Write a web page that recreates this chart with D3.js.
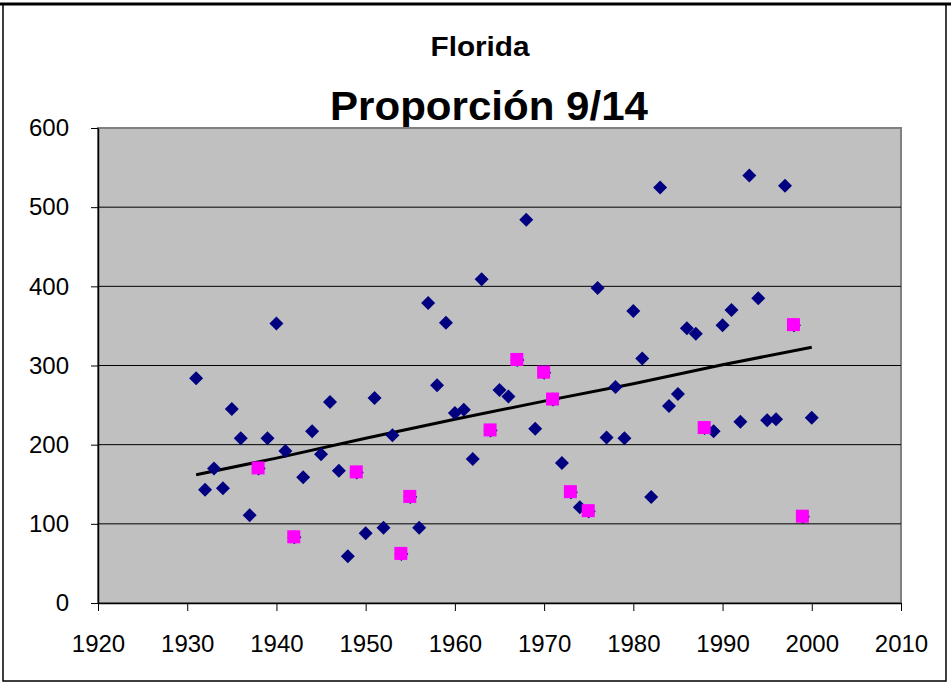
<!DOCTYPE html>
<html>
<head>
<meta charset="utf-8">
<script src="https://cdn.jsdelivr.net/npm/d3@7"></script>
<style>
  body { margin: 0; background: #fff; }
  text { font-family: "Liberation Sans", Arial, sans-serif; }
</style>
</head>
<body>
<svg id="chart" width="951" height="687"></svg>
<script>
// yearly values (blue diamonds)
const years = [1931,1932,1933,1934,1935,1936,1937,1938,1939,1940,
  1941,1942,1943,1944,1945,1946,1947,1948,1949,1950,
  1951,1952,1953,1954,1955,1956,1957,1958,1959,1960,
  1961,1962,1963,1964,1965,1966,1967,1968,1969,1970,
  1971,1972,1973,1974,1975,1976,1977,1978,1979,1980,
  1981,1982,1983,1984,1985,1986,1987,1988,1989,1990,
  1991,1992,1993,1994,1995,1996,1997,1998,1999,2000];
const values = [284,143,170,145,245,208,111,170,208,353,
  192,83,159,217,188,254,167,59,165,88,
  259,95,212,62,134,95,379,275,354,240,
  244,182,409,218,269,261,307,484,220,291,
  257,177,140,121,116,398,209,273,208,369,
  309,134,525,249,264,347,340,221,217,351,
  370,229,540,385,231,232,527,351,109,234];

// highlighted years (magenta squares)
const highlightYears = [1938,1942,1949,1954,1955,1964,1967,1970,1971,1973,1975,1988,1998,1999];

// trend line
const trendYears = [1931, 1940, 1950, 1960, 1970, 1980, 1990, 2000];
const trendValues = [162, 183, 208, 232, 255, 277, 301, 323];

const xTicks = [1920,1930,1940,1950,1960,1970,1980,1990,2000,2010];
const yTicks = [0,100,200,300,400,500,600];

const svg = d3.select("#chart");
const plotL = 98, plotR = 901, plotT = 128, plotB = 603;

const x = d3.scaleLinear().domain([1920, 2010]).range([plotL, plotR]);
const y = d3.scaleLinear().domain([0, 600]).range([plotB, plotT]);

// outer frame
svg.append("rect")
  .attr("x", 3).attr("y", 4).attr("width", 943).attr("height", 677)
  .attr("fill", "none").attr("stroke", "#000").attr("stroke-width", 1.5);
svg.append("line")
  .attr("x1", 0).attr("x2", 951).attr("y1", 4).attr("y2", 4)
  .attr("stroke", "#000").attr("stroke-width", 3);

// titles
svg.append("text")
  .attr("x", 480).attr("y", 56)
  .attr("text-anchor", "middle")
  .attr("font-size", 28).attr("font-weight", "bold")
  .attr("textLength", 99).attr("lengthAdjust", "spacingAndGlyphs")
  .text("Florida");
svg.append("text")
  .attr("x", 489).attr("y", 120)
  .attr("text-anchor", "middle")
  .attr("font-size", 40).attr("font-weight", "bold")
  .attr("textLength", 318).attr("lengthAdjust", "spacingAndGlyphs")
  .text("Proporción 9/14");

// plot area
svg.append("rect")
  .attr("x", plotL).attr("y", plotT)
  .attr("width", plotR - plotL).attr("height", plotB - plotT)
  .attr("fill", "#c0c0c0").attr("stroke", "#808080").attr("stroke-width", 2);

// gridlines
svg.append("g")
  .selectAll("line")
  .data(yTicks.filter(d => d > 0 && d < 600))
  .join("line")
  .attr("x1", plotL).attr("x2", plotR)
  .attr("y1", d => y(d)).attr("y2", d => y(d))
  .attr("stroke", "#000").attr("stroke-width", 1);

// axes
const yAxis = svg.append("g")
  .attr("transform", `translate(${plotL},0)`)
  .call(d3.axisLeft(y).tickValues(yTicks).tickSize(7).tickPadding(22).tickSizeOuter(0));
const xAxis = svg.append("g")
  .attr("transform", `translate(0,${plotB})`)
  .call(d3.axisBottom(x).tickValues(xTicks).tickFormat(d3.format("d")).tickSize(8).tickPadding(24).tickSizeOuter(0));

[yAxis, xAxis].forEach(g => {
  g.selectAll("text").attr("font-size", 24).attr("fill", "#000")
    .attr("font-family", "'Liberation Sans', Arial, sans-serif");
  g.selectAll("line").attr("stroke", "#000");
  g.select(".domain").attr("stroke", "#000").attr("stroke-width", 1.5);
});

// trend line
svg.append("path")
  .datum(trendYears.map((d, i) => [d, trendValues[i]]))
  .attr("fill", "none").attr("stroke", "#000").attr("stroke-width", 3)
  .attr("d", d3.line().x(d => x(d[0])).y(d => y(d[1])));

// blue diamonds
svg.append("g")
  .selectAll("path")
  .data(years.map((d, i) => [d, values[i]]))
  .join("path")
  .attr("transform", d => `translate(${x(d[0])},${y(d[1])})`)
  .attr("d", "M0,-7L7,0L0,7L-7,0Z")
  .attr("fill", "#000080");

// magenta squares
svg.append("g")
  .selectAll("rect")
  .data(highlightYears.map(yr => [yr, values[years.indexOf(yr)]]))
  .join("rect")
  .attr("x", d => x(d[0]) - 7).attr("y", d => y(d[1]) - 7)
  .attr("width", 13).attr("height", 13)
  .attr("fill", "#ff00ff");
</script>
</body>
</html>
